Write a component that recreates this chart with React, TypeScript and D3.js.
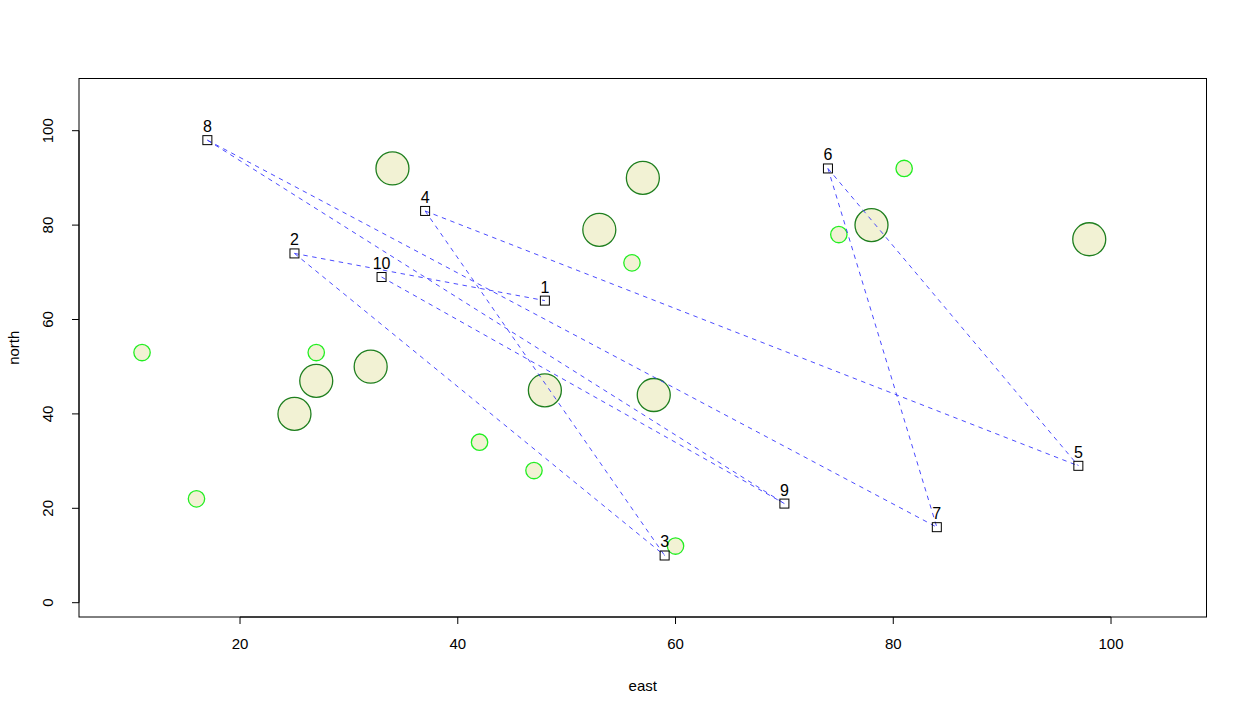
import React from "react";
import * as d3 from "d3";

// Labeled sites (squares)
const siteIds = [1, 2, 3, 4, 5, 6, 7, 8, 9, 10];
const siteEast = [48, 25, 59, 37, 97, 74, 84, 17, 70, 33];
const siteNorth = [64, 74, 10, 83, 29, 92, 16, 98, 21, 69];

// Links between sites (by id)
const linkFrom = [8, 8, 2, 2, 4, 4, 6, 6, 10];
const linkTo = [9, 7, 1, 3, 3, 5, 5, 7, 9];

// Large circles
const bigEast = [34, 57, 53, 78, 98, 32, 27, 25, 48, 58];
const bigNorth = [92, 90, 79, 80, 77, 50, 47, 40, 45, 44];

// Small circles
const smallEast = [81, 75, 56, 11, 27, 42, 47, 16, 60];
const smallNorth = [92, 78, 72, 53, 53, 34, 28, 22, 12];

const xTicks = [20, 40, 60, 80, 100];
const yTicks = [0, 20, 40, 60, 80, 100];

const W = 1247;
const H = 715;
const L = 79, R = 1206.5, T = 78.5, B = 617;

export default function App() {
  const x = d3.scaleLinear().domain([5.21, 108.77]).range([L, R]);
  const y = d3.scaleLinear().domain([-3.03, 111.06]).range([B, T]);
  const font = "'Liberation Sans', Arial, Helvetica, sans-serif";
  const idx = (id: number) => siteIds.indexOf(id);

  return (
    <svg width={W} height={H} style={{ position: "absolute", left: 0, top: 0, background: "#fff" }} fontFamily={font}>
      {/* big circles */}
      {bigEast.map((e, i) => (
        <circle key={"b" + i} cx={x(e)} cy={y(bigNorth[i])} r={16.5} fill="#f2f2d4" stroke="#1f7f1f" strokeWidth={1.3} />
      ))}
      {/* small circles */}
      {smallEast.map((e, i) => (
        <circle key={"s" + i} cx={x(e)} cy={y(smallNorth[i])} r={8.2} fill="#f2f2d4" stroke="#22ee22" strokeWidth={1.3} />
      ))}
      {/* links */}
      {linkFrom.map((f, i) => {
        const a = idx(f), b = idx(linkTo[i]);
        return (
          <line key={"l" + i} x1={x(siteEast[a])} y1={y(siteNorth[a])} x2={x(siteEast[b])} y2={y(siteNorth[b])}
            stroke="#3a3aff" strokeWidth={1} strokeDasharray="4.5,4.5" opacity={0.9} />
        );
      })}
      {/* squares */}
      {siteIds.map((id, i) => (
        <g key={"q" + id}>
          <rect x={x(siteEast[i]) - 4.5} y={y(siteNorth[i]) - 4.5} width={9} height={9} fill="none" stroke="#000" strokeWidth={1} />
          <text x={x(siteEast[i])} y={y(siteNorth[i]) - 8} textAnchor="middle" fontSize={16} fill="#000">{id}</text>
        </g>
      ))}
      {/* box */}
      <rect x={L} y={T} width={R - L} height={B - T} fill="none" stroke="#000" strokeWidth={1} />
      {/* x axis */}
      <line x1={x(xTicks[0])} x2={x(xTicks[xTicks.length - 1])} y1={B} y2={B} stroke="#000" />
      {xTicks.map((t) => (
        <g key={"xt" + t}>
          <line x1={x(t)} x2={x(t)} y1={B} y2={B + 7} stroke="#000" />
          <text x={x(t)} y={B + 32} textAnchor="middle" fontSize={15}>{t}</text>
        </g>
      ))}
      <text x={(L + R) / 2} y={691} textAnchor="middle" fontSize={15}>east</text>
      {/* y axis */}
      <line x1={L} x2={L} y1={y(yTicks[0])} y2={y(yTicks[yTicks.length - 1])} stroke="#000" />
      {yTicks.map((t) => (
        <g key={"yt" + t}>
          <line x1={L - 7} x2={L} y1={y(t)} y2={y(t)} stroke="#000" />
          <text transform={`translate(${L - 26},${y(t)}) rotate(-90)`} textAnchor="middle" fontSize={15}>{t}</text>
        </g>
      ))}
      <text transform={`translate(19,${(T + B) / 2}) rotate(-90)`} textAnchor="middle" fontSize={15}>north</text>
    </svg>
  );
}
